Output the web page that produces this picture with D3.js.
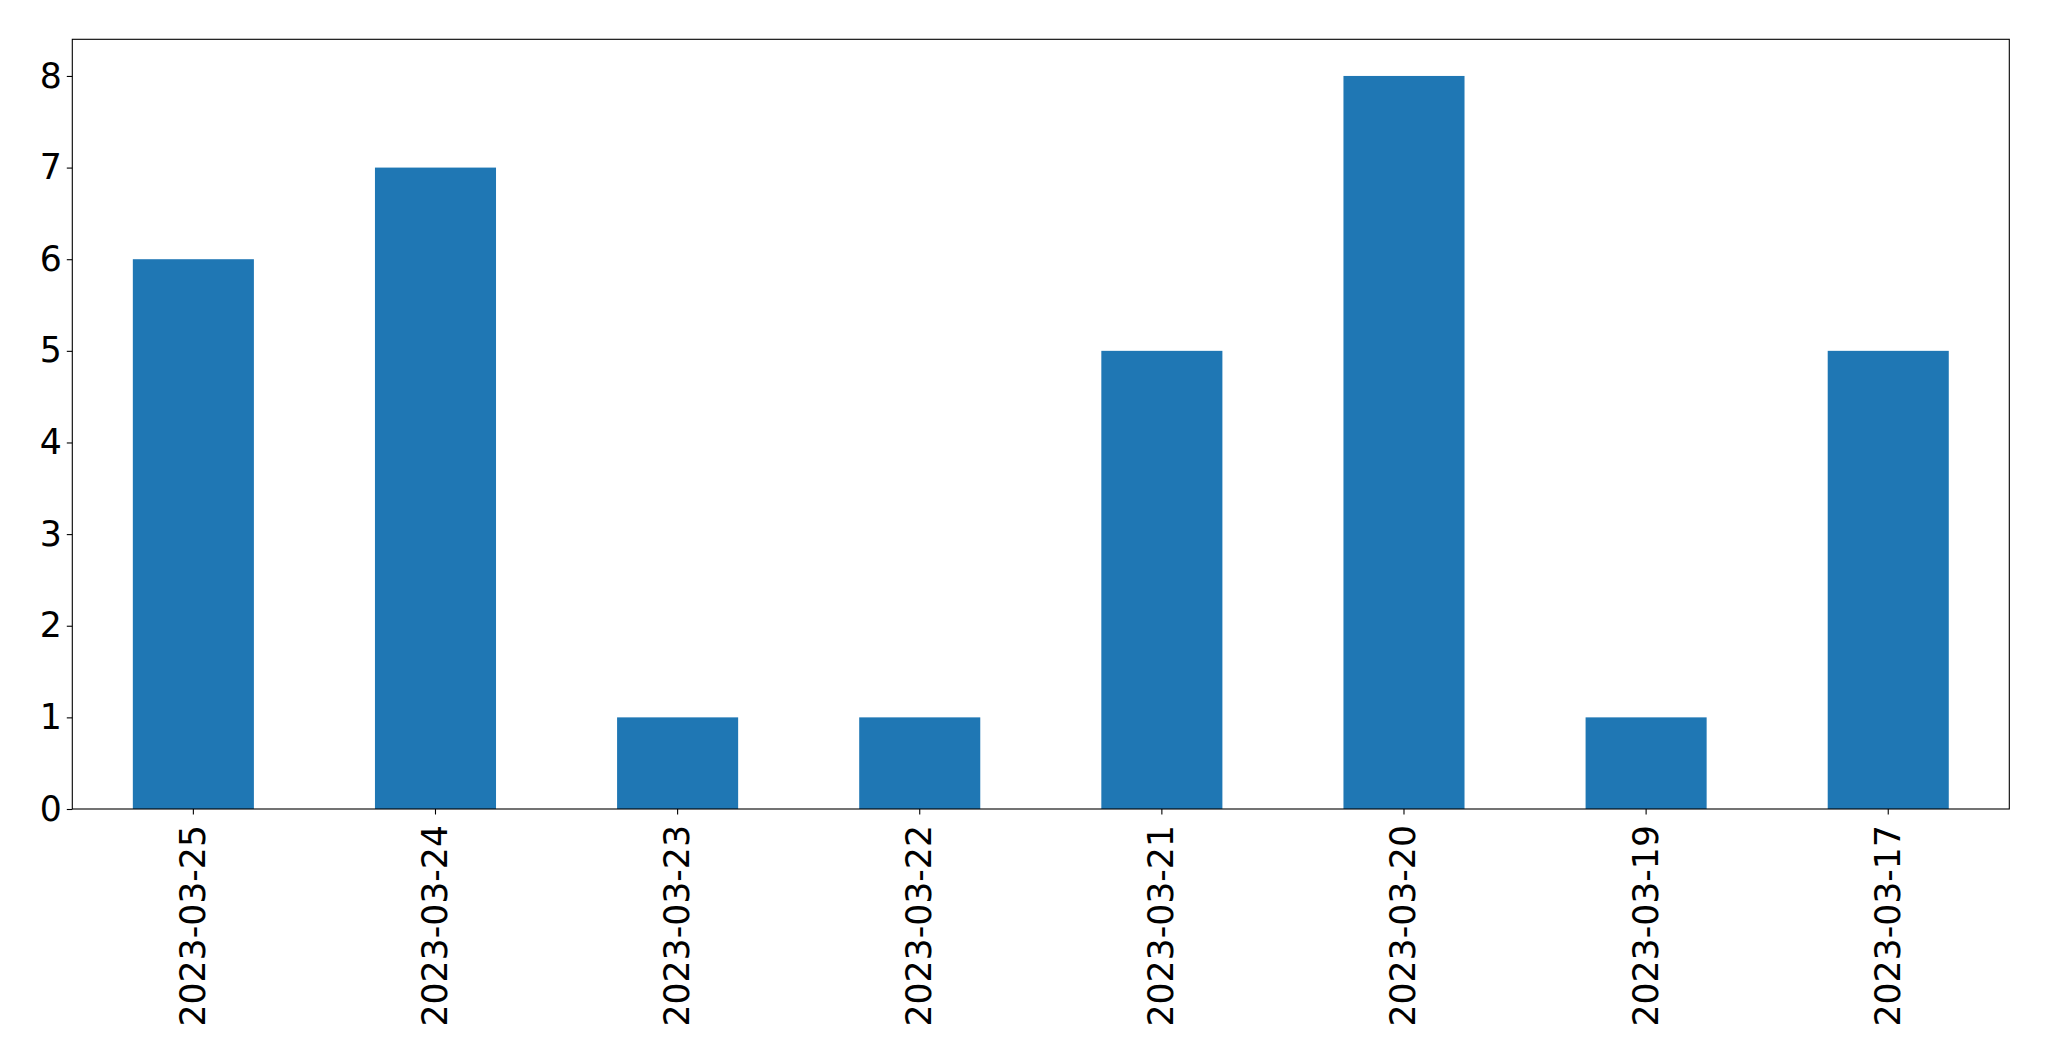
<!DOCTYPE html>
<html><head><meta charset="utf-8">
<script src="https://cdn.jsdelivr.net/npm/d3@7"></script>
<style>body{margin:0;background:#fff}svg{display:block}</style>
</head><body>
<script>
const categories = ["2023-03-25","2023-03-24","2023-03-23","2023-03-22","2023-03-21","2023-03-20","2023-03-19","2023-03-17"];
const values = [6,7,1,1,5,8,1,5];
const yTicks = [0,1,2,3,4,5,6,7,8];

const W = 2049, H = 1061;
const m = {left:72.3, top:39.3, right:2049-2009.3, bottom:1061-809};
const iw = W - m.left - m.right, ih = H - m.top - m.bottom;

const svg = d3.select("body").append("svg").attr("width", W).attr("height", H);
const g = svg.append("g").attr("transform", `translate(${m.left},${m.top})`);

const x = d3.scaleBand().domain(categories).range([0, iw]).paddingInner(0.5).paddingOuter(0.25);
const y = d3.scaleLinear().domain([0, 8.4]).range([ih, 0]);

g.selectAll("rect.bar").data(values).enter().append("rect")
  .attr("class","bar")
  .attr("x", (d,i) => x(categories[i]))
  .attr("width", x.bandwidth())
  .attr("y", d => y(d))
  .attr("height", d => y(0) - y(d))
  .attr("fill", "#1f77b4");

const font = "DejaVu Sans";
const fs = 34.7;
const yAxis = g.append("g").call(d3.axisLeft(y).tickValues(yTicks).tickSize(5.5).tickPadding(5).tickFormat(d3.format("d")));
yAxis.select(".domain").remove();
yAxis.selectAll("text").attr("font-family", font).attr("font-size", fs).attr("fill","#000");
yAxis.selectAll("line").attr("stroke","#000").attr("stroke-width",1.1);

const xAxis = g.append("g").attr("transform", `translate(0,${ih})`).call(d3.axisBottom(x).tickSize(5.5).tickPadding(5));
xAxis.select(".domain").remove();
xAxis.selectAll("line").attr("stroke","#000").attr("stroke-width",1.1);
xAxis.selectAll("text")
  .attr("font-family", font).attr("font-size", fs).attr("fill","#000")
  .attr("text-anchor","end").attr("dy","0.33em")
  .attr("transform","translate(0,16) rotate(-90)")
  .attr("x",0).attr("y",0);

g.append("rect").attr("x",0).attr("y",0).attr("width",iw).attr("height",ih)
  .attr("fill","none").attr("stroke","#000").attr("stroke-width",1.1);
</script>
</body></html>
